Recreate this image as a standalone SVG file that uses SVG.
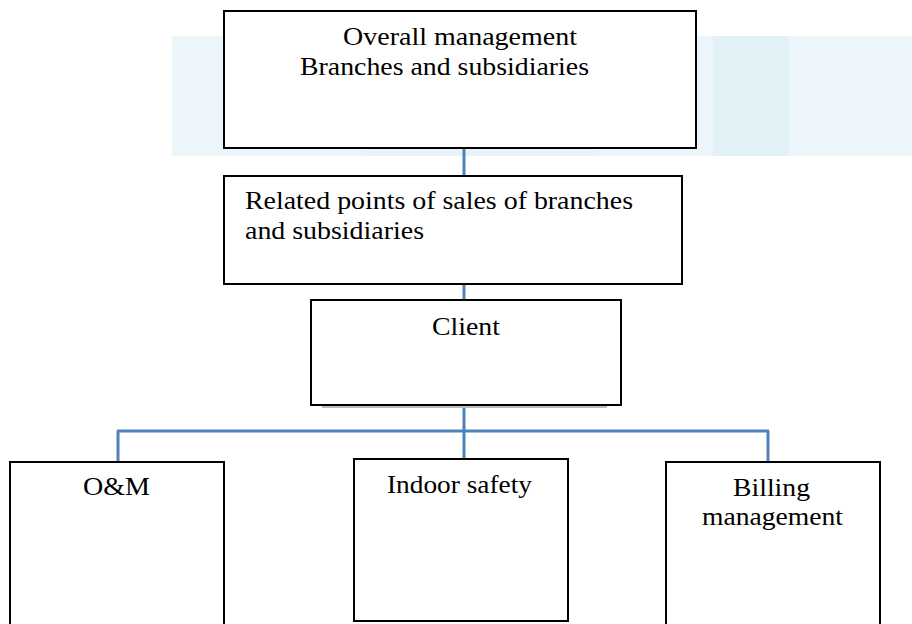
<svg xmlns="http://www.w3.org/2000/svg" width="912" height="624" viewBox="0 0 912 624">
<style>
.box{fill:#fff;stroke:#000;stroke-width:2}
text{font-family:'Liberation Serif','Times New Roman',Times,serif;font-size:26px;fill:#000}
.c{stroke:#4f81bd;stroke-width:3;fill:none}
</style>
<g id="background">
<rect x="172" y="36" width="740" height="120" fill="#ecf5f9"/>
<rect x="366" y="36" width="228" height="120" fill="#e8f3f8"/>
<rect x="713" y="36" width="76" height="120" fill="#e3f2f7"/>
</g>
<g id="connectors">
<line class="c" x1="464" y1="148" x2="464" y2="176"/>
<line class="c" x1="464" y1="284" x2="464" y2="300"/>
<line class="c" x1="464" y1="405" x2="464" y2="458"/>
<line class="c" x1="117" y1="431" x2="769" y2="431"/>
<line class="c" x1="118" y1="431" x2="118" y2="462"/>
<line class="c" x1="768" y1="431" x2="768" y2="462"/>
</g>
<g id="overall">
<rect class="box" x="224" y="11" width="472" height="137"/>
<text x="343" y="45" textLength="234" lengthAdjust="spacingAndGlyphs">Overall management</text>
<text x="300" y="75" textLength="289" lengthAdjust="spacingAndGlyphs">Branches and subsidiaries</text>
</g>
<g id="related">
<rect class="box" x="224" y="176" width="458" height="108"/>
<text x="245" y="209" textLength="388" lengthAdjust="spacingAndGlyphs">Related points of sales of branches</text>
<text x="245" y="239" textLength="179" lengthAdjust="spacingAndGlyphs">and subsidiaries</text>
</g>
<g id="client">
<rect x="322" y="405" width="285" height="3" fill="#bdbdbd"/>
<rect class="box" x="311" y="300" width="310" height="105"/>
<text x="432" y="335" textLength="68" lengthAdjust="spacingAndGlyphs">Client</text>
</g>
<g id="om">
<rect class="box" x="10" y="462" width="214" height="170"/>
<text x="83" y="495" textLength="67" lengthAdjust="spacingAndGlyphs">O&amp;M</text>
</g>
<g id="indoor">
<rect class="box" x="354" y="459" width="214" height="162"/>
<text x="387" y="493" textLength="145" lengthAdjust="spacingAndGlyphs">Indoor safety</text>
</g>
<g id="billing">
<rect class="box" x="666" y="462" width="214" height="170"/>
<text x="733" y="496" textLength="77" lengthAdjust="spacingAndGlyphs">Billing</text>
<text x="702" y="525" textLength="141" lengthAdjust="spacingAndGlyphs">management</text>
</g>
</svg>
